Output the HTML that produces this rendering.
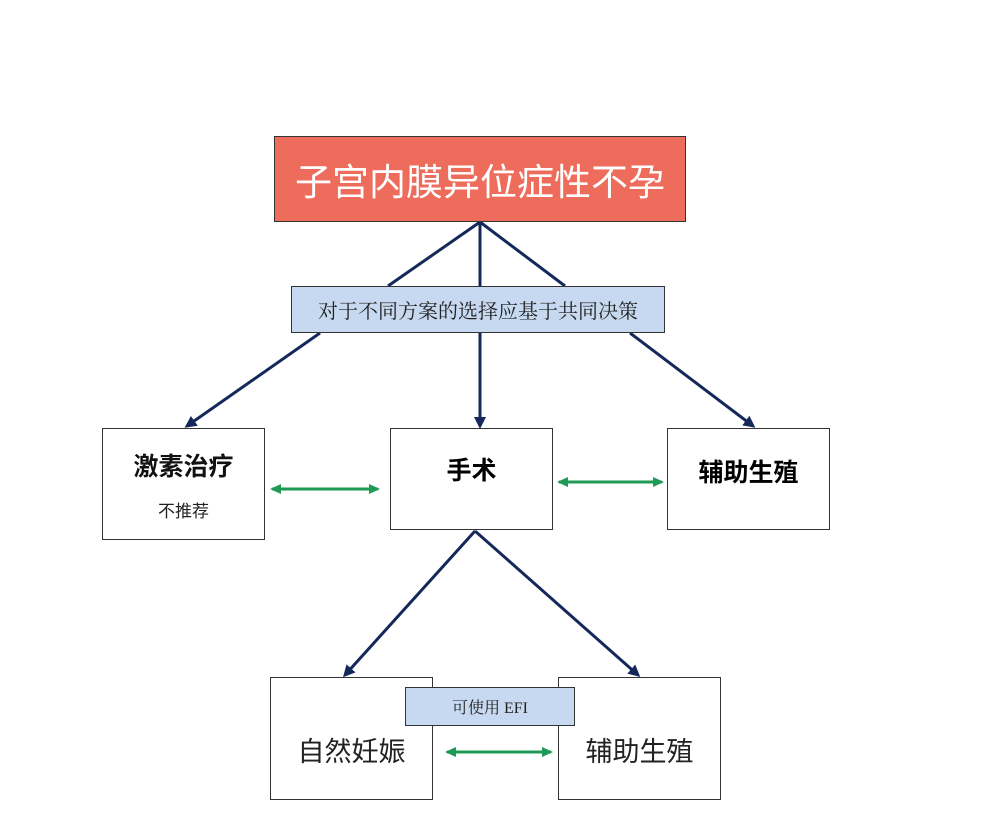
<!DOCTYPE html>
<html><head><meta charset="utf-8"><style>
body{margin:0;background:#fff;width:1000px;height:834px;overflow:hidden;font-family:"Liberation Serif","Noto Serif CJK SC","Noto Sans CJK SC",serif}
.b{position:absolute;box-sizing:border-box;border:1.5px solid #333;background:#fff;display:flex;align-items:center;justify-content:center;flex-direction:column}
</style></head><body>
<svg width="1000" height="834" style="position:absolute;left:0;top:0">
<defs>
<marker id="a" markerWidth="12" markerHeight="12" refX="9" refY="6" orient="auto" markerUnits="userSpaceOnUse"><path d="M0,0 L12,6 L0,12 Z" fill="#14295a"/></marker>
<marker id="g" markerWidth="11" markerHeight="10" refX="9" refY="5" orient="auto-start-reverse" markerUnits="userSpaceOnUse"><path d="M0,0 L11,5 L0,10 Z" fill="#1f9a55"/></marker>
</defs>
<g stroke="#14295a" stroke-width="3" fill="none">
<line x1="480" y1="222" x2="388" y2="286"/>
<line x1="480" y1="222" x2="480" y2="286"/>
<line x1="480" y1="222" x2="565" y2="286"/>
<line x1="320" y1="333" x2="187" y2="426" marker-end="url(#a)"/>
<line x1="480" y1="333" x2="480" y2="426" marker-end="url(#a)"/>
<line x1="630" y1="333" x2="753" y2="426" marker-end="url(#a)"/>
<line x1="475" y1="531" x2="345" y2="675" marker-end="url(#a)"/>
<line x1="475" y1="531" x2="638" y2="675" marker-end="url(#a)"/>
</g>
<g stroke="#1f9a55" stroke-width="3">
<line x1="272" y1="489" x2="378" y2="489" marker-start="url(#g)" marker-end="url(#g)"/>
<line x1="559" y1="482" x2="662" y2="482" marker-start="url(#g)" marker-end="url(#g)"/>
<line x1="447" y1="752" x2="551" y2="752" marker-start="url(#g)" marker-end="url(#g)"/>
</g>
</svg>
<div class="b" style="left:274px;top:136px;width:412px;height:86px;background:#ee6c5c;border-color:#333;color:#fff;font-family:'Liberation Sans','Noto Sans CJK SC',sans-serif;font-size:37px">子宫内膜异位症性不孕</div>
<div class="b" style="left:291px;top:286px;width:374px;height:47px;background:#c6d9f0;font-size:20px;color:#222">对于不同方案的选择应基于共同决策</div>
<div class="b" style="left:102px;top:428px;width:163px;height:112px;font-family:'Liberation Sans','Noto Sans CJK SC',sans-serif"><div style="font-size:25px;font-weight:bold;color:#111">激素治疗</div><div style="font-size:17px;margin-top:14px;color:#222">不推荐</div></div>
<div class="b" style="left:390px;top:428px;width:163px;height:102px;font-size:25px;font-weight:bold;font-family:'Liberation Sans','Noto Sans CJK SC',sans-serif;justify-content:flex-start;padding-top:22px">手术</div>
<div class="b" style="left:667px;top:428px;width:163px;height:102px;font-size:25px;font-weight:bold;font-family:'Liberation Sans','Noto Sans CJK SC',sans-serif;justify-content:flex-start;padding-top:24px">辅助生殖</div>
<div class="b" style="left:270px;top:677px;width:163px;height:123px;font-size:27px;font-family:'Liberation Sans','Noto Sans CJK SC',sans-serif;padding-top:22px;color:#222">自然妊娠</div>
<div class="b" style="left:558px;top:677px;width:163px;height:123px;font-size:27px;font-family:'Liberation Sans','Noto Sans CJK SC',sans-serif;padding-top:22px;color:#222">辅助生殖</div>
<div class="b" style="left:405px;top:687px;width:170px;height:39px;background:#c6d9f0;font-size:16px;color:#222">可使用 EFI</div>
</body></html>
